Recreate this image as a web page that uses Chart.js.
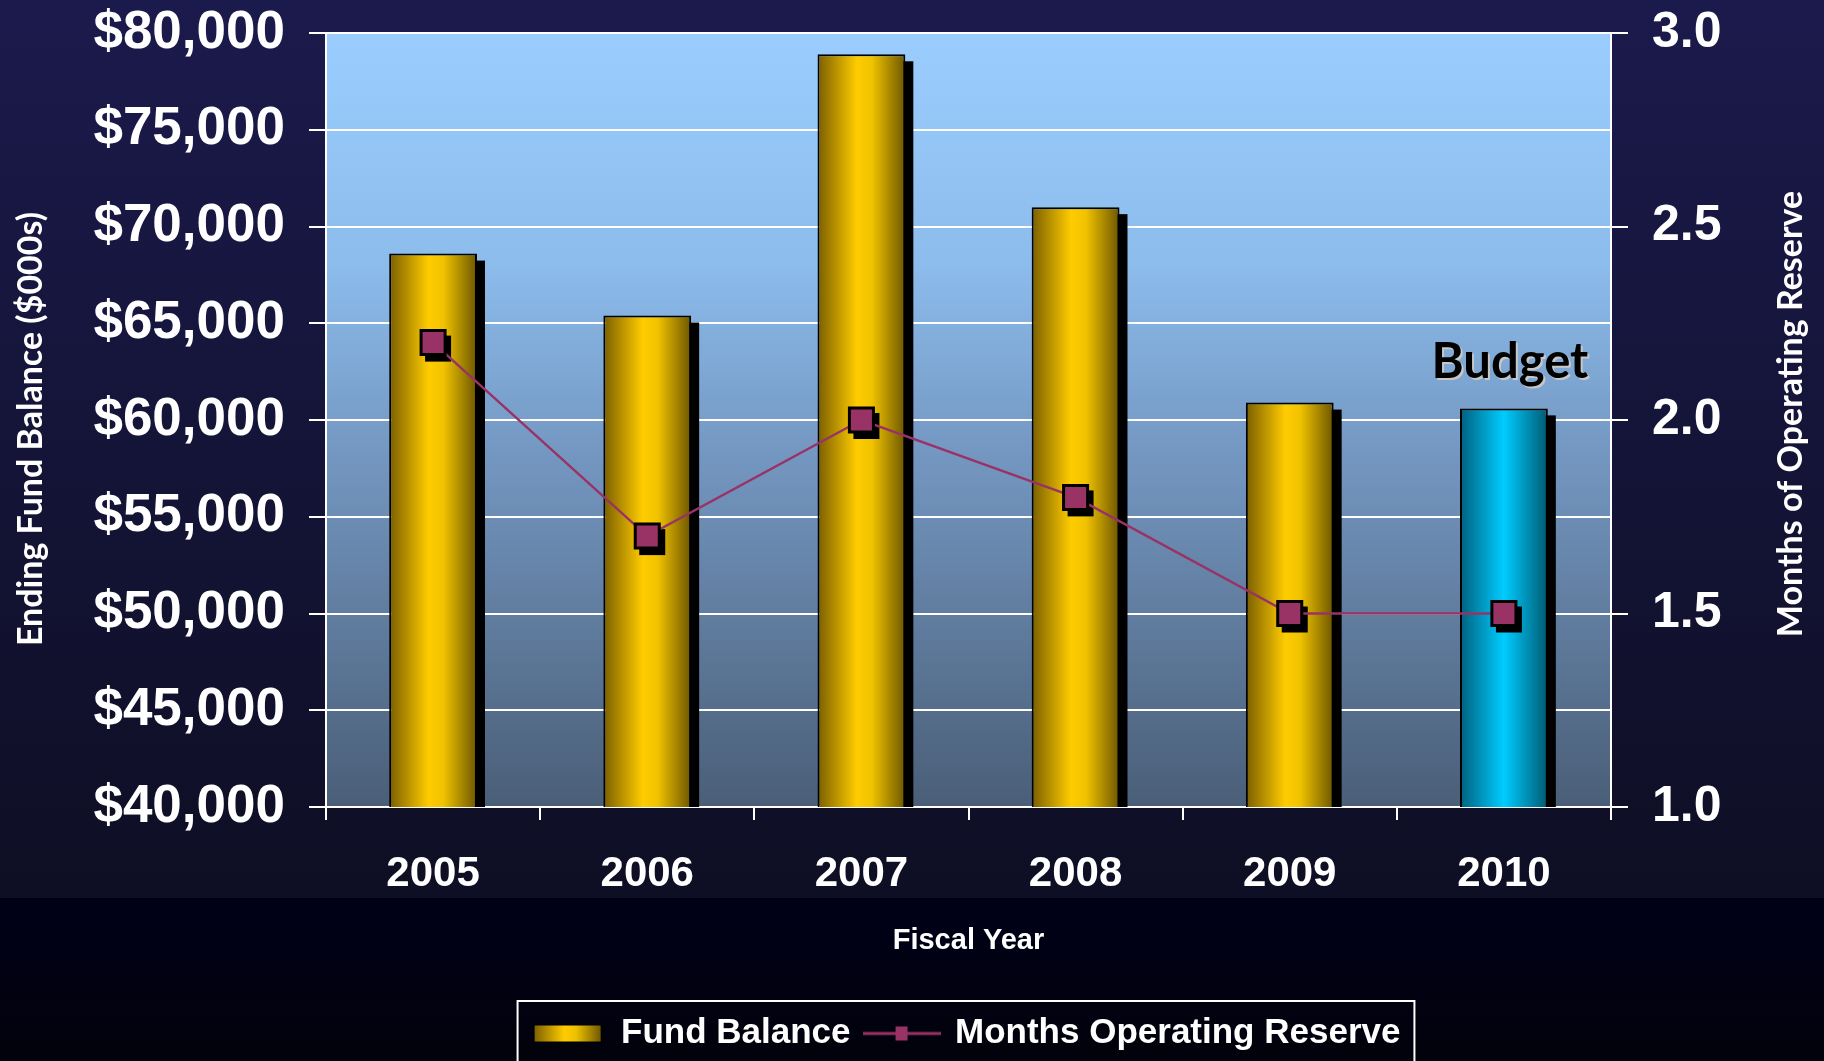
<!DOCTYPE html>
<html>
<head>
<meta charset="utf-8">
<title>Ending Fund Balance</title>
<script src="https://cdn.jsdelivr.net/npm/chart.js@4.4.0/dist/chart.umd.min.js"></script>
<style>
  html, body { margin: 0; padding: 0; background: #0b0b24; }
  #wrap { width: 1824px; height: 1061px; }
</style>
</head>
<body>
<div id="wrap"><canvas id="fundChart" width="1824" height="1061"></canvas></div>
<script>
// values
var years = ['2005', '2006', '2007', '2008', '2009', '2010'];
var fundBalance = [68600, 65400, 78900, 71000, 60900, 60600];
var monthsReserve = [2.2, 1.7, 2.0, 1.8, 1.5, 1.5];
var budgetYears = ['2010'];

// axis ranges: [min, max, step]
var fundAxis = [40000, 80000, 5000];
var reserveAxis = [1.0, 3.0, 0.5];

var fundTitle = 'Ending Fund Balance ($000s)';
var reserveTitle = 'Months of Operating Reserve';
var yearTitle = 'Fiscal Year';
var budgetNote = 'Budget';
var legendNames = ['Fund Balance', 'Months Operating Reserve'];

var barRatio = 0.41;
var legendShift = 54;
var arial = "'Liberation Sans', Arial, sans-serif";
var calibri = "Lato, 'Open Sans', sans-serif";

function isBudget(i) {
  return budgetYears.indexOf(years[i]) !== -1;
}

function gradStops(g, budget) {
  if (budget) {
    g.addColorStop(0, '#00607e');
    g.addColorStop(0.5, '#00ccff');
    g.addColorStop(1, '#005a72');
  } else {
    g.addColorStop(0, '#7a5e00');
    g.addColorStop(0.45, '#ffcc00');
    g.addColorStop(0.62, '#f0c200');
    g.addColorStop(1, '#6c5600');
  }
  return g;
}

function barFill(context) {
  var chart = context.chart;
  var i = context.dataIndex;
  if (!chart.chartArea || i === undefined) return '#ffcc00';
  var xs = chart.scales.x;
  var cx = xs.getPixelForValue(i);
  var half = (xs.width / years.length) * barRatio / 2;
  var g = chart.ctx.createLinearGradient(cx - half, 0, cx + half, 0);
  return gradStops(g, isBudget(i));
}

// vertical axes: keep the label overhang from pushing the plot down
function fixSide(width) {
  return function(scale) {
    scale.width = width;
    scale.paddingTop = 0;
    scale.paddingBottom = 0;
  };
}

// little pictures for the legend keys
function makeSwatch() {
  var c = document.createElement('canvas');
  c.width = 68; c.height = 18;
  var g = c.getContext('2d');
  g.fillStyle = gradStops(g.createLinearGradient(0, 0, 68, 0), false);
  g.fillRect(0, 0, 68, 18);
  g.strokeStyle = '#000';
  g.lineWidth = 1;
  g.strokeRect(0.5, 0.5, 67, 17);
  return c;
}

function makeLineKey() {
  var c = document.createElement('canvas');
  c.width = 78; c.height = 20;
  var g = c.getContext('2d');
  g.strokeStyle = '#993366';
  g.lineWidth = 3;
  g.beginPath(); g.moveTo(0, 10); g.lineTo(78, 10); g.stroke();
  g.fillStyle = '#993366';
  g.fillRect(33, 3, 12, 14);
  return c;
}

var swatchKey = makeSwatch();
var lineKey = makeLineKey();

function sideTitle(ctx, text, x, y) {
  ctx.save();
  ctx.translate(x, y);
  ctx.rotate(-Math.PI / 2);
  ctx.fillStyle = '#fff';
  ctx.font = 'bold 34px ' + calibri;
  ctx.textAlign = 'center';
  ctx.textBaseline = 'middle';
  ctx.fillText(text, 0, 0);
  ctx.restore();
}

var slidePlugin = {
  id: 'slide',
  afterLayout: function(chart) {
    // legend sits a bit right of centre on the slide
    chart.legend.left += legendShift;
    chart.legend.right += legendShift;
  },
  beforeDraw: function(chart) {
    var ctx = chart.ctx;
    var w = chart.width, h = chart.height;
    var a = chart.chartArea;
    ctx.save();
    var bg = ctx.createLinearGradient(0, 0, 0, 898);
    bg.addColorStop(0, '#1b1a4c');
    bg.addColorStop(1, '#0e0e24');
    ctx.fillStyle = bg;
    ctx.fillRect(0, 0, w, 898);
    var low = ctx.createLinearGradient(0, 898, 0, h);
    low.addColorStop(0, '#000018');
    low.addColorStop(1, '#02020c');
    ctx.fillStyle = low;
    ctx.fillRect(0, 898, w, h - 898);

    var plot = ctx.createLinearGradient(0, a.top, 0, a.bottom);
    plot.addColorStop(0, '#9acdfe');
    plot.addColorStop(0.3, '#8cbcec');
    plot.addColorStop(0.55, '#7396c0');
    plot.addColorStop(1, '#4a5e77');
    ctx.fillStyle = plot;
    ctx.fillRect(a.left, a.top, a.right - a.left, a.bottom - a.top);
    ctx.restore();
  },
  beforeDatasetDraw: function(chart, args) {
    var ctx = chart.ctx;
    var a = chart.chartArea;
    var meta = args.meta;
    ctx.save();
    ctx.beginPath();
    ctx.rect(a.left, a.top, a.right - a.left, a.bottom - a.top);
    ctx.clip();
    ctx.fillStyle = '#000';
    if (meta.type === 'bar') {
      meta.data.forEach(function(el) {
        ctx.fillRect(el.x - el.width / 2 + 8, el.y + 7, el.width, el.base - el.y - 7);
      });
    } else if (meta.type === 'line') {
      meta.data.forEach(function(el) {
        ctx.fillRect(el.x - 13 + 5, el.y - 13 + 6, 26, 26);
      });
    }
    ctx.restore();
  },
  afterDatasetsDraw: function(chart) {
    var ctx = chart.ctx;
    var meta = chart.getDatasetMeta(0);
    ctx.save();
    ctx.font = 'bold 49px ' + calibri;
    ctx.textAlign = 'center';
    ctx.textBaseline = 'alphabetic';
    years.forEach(function(y, i) {
      if (!isBudget(i)) return;
      var el = meta.data[i];
      ctx.fillStyle = '#c8c8c8';
      ctx.fillText(budgetNote, el.x + 8, el.y - 28);
      ctx.fillStyle = '#000';
      ctx.fillText(budgetNote, el.x + 6, el.y - 30);
    });
    ctx.restore();
  },
  afterDraw: function(chart) {
    var ctx = chart.ctx;
    var a = chart.chartArea;
    var mid = (a.top + a.bottom) / 2;
    sideTitle(ctx, fundTitle, chart.scales.y.left + 31, mid + 9);
    sideTitle(ctx, reserveTitle, chart.scales.y1.right - 33, mid - 6);

    // white frame round the legend
    var lg = chart.legend;
    var boxes = lg.legendHitBoxes;
    if (boxes && boxes.length) {
      var last = boxes[boxes.length - 1];
      var x0 = boxes[0].left - 14;
      var x1 = last.left + last.width + 14;
      ctx.save();
      ctx.strokeStyle = '#fff';
      ctx.lineWidth = 2;
      ctx.strokeRect(x0, lg.top, x1 - x0, chart.height - lg.top + 10);
      ctx.restore();
    }
  }
};

var ctx = document.getElementById('fundChart');

var fundChart = new Chart(ctx, {
  type: 'bar',
  data: {
    labels: years,
    datasets: [{
      type: 'bar',
      label: legendNames[0],
      data: fundBalance,
      yAxisID: 'y',
      order: 2,
      backgroundColor: barFill,
      borderColor: '#000',
      borderWidth: 2,
      borderSkipped: 'bottom',
      barPercentage: barRatio,
      categoryPercentage: 1.0
    }, {
      type: 'line',
      label: legendNames[1],
      data: monthsReserve,
      yAxisID: 'y1',
      order: 1,
      borderColor: '#993366',
      borderWidth: 2.5,
      pointStyle: 'rect',
      pointRadius: 17,
      pointBackgroundColor: '#993366',
      pointBorderColor: '#000',
      pointBorderWidth: 3,
      tension: 0
    }]
  },
  options: {
    responsive: false,
    animation: false,
    layout: { padding: { top: 33, left: 0, right: 0, bottom: 0 } },
    plugins: {
      tooltip: { enabled: false },
      legend: {
        position: 'bottom',
        labels: {
          color: '#fff',
          font: { family: arial, size: 35, weight: 'bold' },
          padding: 15,
          usePointStyle: true,
          pointStyleWidth: 72,
          generateLabels: function(chart) {
            return [
              { text: legendNames[0], fontColor: '#fff', pointStyle: swatchKey, fillStyle: '#ffcc00', strokeStyle: '#000', lineWidth: 0, hidden: false, datasetIndex: 0 },
              { text: legendNames[1], fontColor: '#fff', pointStyle: lineKey, fillStyle: '#993366', strokeStyle: '#993366', lineWidth: 0, hidden: false, datasetIndex: 1 }
            ];
          }
        }
      }
    },
    scales: {
      x: {
        afterFit: function(scale) { scale.height = 194; },
        grid: { drawOnChartArea: false, drawTicks: true, tickLength: 13, color: '#fff', lineWidth: 2, offset: true },
        border: { display: true, color: '#fff', width: 2 },
        ticks: { color: '#fff', padding: 29, font: { family: arial, size: 42, weight: 'bold' } },
        title: {
          display: true,
          text: yearTitle,
          color: '#fff',
          font: { family: arial, size: 29, weight: 'bold' },
          padding: { top: 25, bottom: 43 }
        }
      },
      y: {
        position: 'left',
        min: fundAxis[0],
        max: fundAxis[1],
        afterFit: fixSide(326),
        grid: { color: '#fff', lineWidth: 2, drawTicks: true, tickLength: 17 },
        border: { display: true, color: '#fff', width: 2 },
        ticks: {
          stepSize: fundAxis[2],
          color: '#fff',
          padding: 24,
          font: { family: arial, size: 53, weight: 'bold' },
          callback: function(v) { return '$' + v.toLocaleString('en-US'); }
        }
      },
      y1: {
        position: 'right',
        min: reserveAxis[0],
        max: reserveAxis[1],
        afterFit: fixSide(213),
        grid: { drawOnChartArea: false, color: '#fff', lineWidth: 2, drawTicks: true, tickLength: 17 },
        border: { display: true, color: '#fff', width: 2 },
        ticks: {
          stepSize: reserveAxis[2],
          color: '#fff',
          padding: 24,
          font: { family: arial, size: 50, weight: 'bold' },
          callback: function(v) { return v.toFixed(1); }
        }
      }
    }
  },
  plugins: [slidePlugin]
});
</script>
</body>
</html>
